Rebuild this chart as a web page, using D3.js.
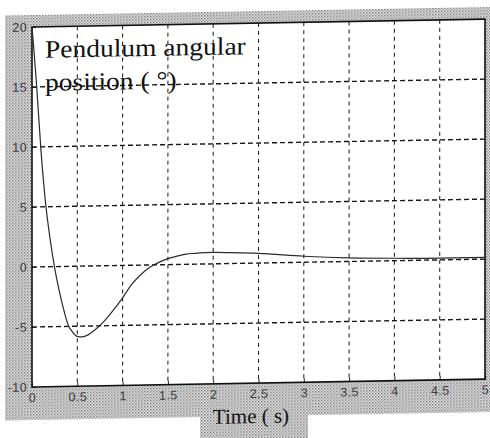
<!DOCTYPE html>
<html>
<head>
<meta charset="utf-8">
<script src="https://cdn.jsdelivr.net/npm/d3@7"></script>
<style>
body { margin: 0; background: #fff; }
</style>
</head>
<body>
<div id="pendulum_chart"></div>
<script>
//data
var timeValues = [0, 0.02, 0.05, 0.1, 0.15, 0.2, 0.25, 0.3, 0.35, 0.4, 0.45, 0.5, 0.55, 0.6, 0.7, 0.8, 0.9, 1.0, 1.1, 1.2, 1.3, 1.4, 1.5, 1.6, 1.7, 1.8, 2.0, 2.2, 2.5, 3.0, 3.5, 4.0, 4.5, 5.0];
var angleValues = [20, 18.2, 15.2, 9.6, 5.3, 2.3, -0.1, -2.0, -3.6, -4.9, -5.5, -5.85, -5.9, -5.8, -5.3, -4.6, -3.7, -2.7, -1.6, -0.8, -0.2, 0.2, 0.5, 0.7, 0.85, 0.9, 0.95, 0.9, 0.8, 0.5, 0.3, 0.2, 0.15, 0.15];
var xTicks = [0, 0.5, 1, 1.5, 2, 2.5, 3, 3.5, 4, 4.5, 5];
var xTickLabels = ["0", "0.5", "1", "1.5", "2", "2.5", "3", "3.5", "4", "4.5", "5"];
var yTicks = [-10, -5, 0, 5, 10, 15, 20];
var yTickLabels = ["-10", "-5", "0", "5", "10", "15", "20"];
var titleLines = ["Pendulum angular", "position ( \u00b0)"];
var xLabel = "Time ( s)";

//setting dimensions and margins
var margin = {top: 27, right: 5, bottom: 51, left: 32},
width = 490 - margin.left - margin.right,
height = 438 - margin.top - margin.bottom;

var svg = d3.select("#pendulum_chart")
.append("svg")
.attr("width", 490)
.attr("height", 438);

//stipple pattern like the grey figure background of the scan
var defs = svg.append("defs");
var pat = defs.append("pattern")
.attr("id", "stipple")
.attr("patternUnits", "userSpaceOnUse")
.attr("width", 3)
.attr("height", 3);
pat.append("rect").attr("width", 3).attr("height", 3).attr("fill", "#e6e6e6");
pat.append("rect").attr("x", 0).attr("y", 0).attr("width", 1.4).attr("height", 1.4).attr("fill", "#767676");
pat.append("rect").attr("x", 1.5).attr("y", 1.5).attr("width", 1.3).attr("height", 1.3).attr("fill", "#8a8a8a");

//the scan is slightly skewed, so the whole figure is skewed around the bottom-left corner
var fig = svg.append("g")
.attr("transform", "translate(" + margin.left + "," + (margin.top + height) + ") skewY(-1) translate(" + (-margin.left) + "," + (-(margin.top + height)) + ")");

//figure background
fig.append("rect")
.attr("x", 5).attr("y", 15)
.attr("width", 495).attr("height", 405)
.attr("fill", "url(#stipple)");
fig.append("rect")
.attr("x", 200).attr("y", 405)
.attr("width", 108).attr("height", 40)
.attr("fill", "url(#stipple)");

var g = fig.append("g")
.attr("transform", "translate(" + margin.left + "," + margin.top + ")");

//white axes area
g.append("rect")
.attr("width", width)
.attr("height", height)
.attr("fill", "#ffffff");

//scales
var xScale = d3.scaleLinear().domain([0, 5]).range([0, width]);
var yScale = d3.scaleLinear().domain([-10, 20]).range([height, 0]);

//grid lines (dashed, matlab style)
g.append("g")
.selectAll("line")
.data(xTicks.slice(1, -1))
.enter().append("line")
.attr("x1", function(d) { return xScale(d); })
.attr("x2", function(d) { return xScale(d); })
.attr("y1", 0)
.attr("y2", height)
.attr("stroke", "#2a2a2a")
.attr("stroke-width", 1.1)
.attr("stroke-dasharray", "4,4");

g.append("g")
.selectAll("line")
.data(yTicks.slice(1, -1))
.enter().append("line")
.attr("x1", 0)
.attr("x2", width)
.attr("y1", function(d) { return yScale(d); })
.attr("y2", function(d) { return yScale(d); })
.attr("stroke", "#1a1a1a")
.attr("stroke-width", 1.4)
.attr("stroke-dasharray", "5,3");

//x axis
var xAxis = g.append("g")
.attr("transform", "translate(0," + height + ")")
.call(d3.axisBottom(xScale).tickValues(xTicks).tickSize(-4).tickPadding(6)
  .tickFormat(function(d, i) { return xTickLabels[i]; }));
xAxis.select(".domain").remove();

//y axis
var yAxis = g.append("g")
.call(d3.axisLeft(yScale).tickValues(yTicks).tickSize(-4).tickPadding(5)
  .tickFormat(function(d, i) { return yTickLabels[i]; }));
yAxis.select(".domain").remove();

g.selectAll(".tick line").attr("stroke", "#222").attr("stroke-width", 1);
g.selectAll(".tick text")
.style("font-family", "Liberation Sans, Arial, sans-serif")
.style("font-size", "12.5px")
.style("letter-spacing", "0.4px")
.attr("fill", "#3a3a3a");

//axes box
g.append("rect")
.attr("width", width)
.attr("height", height)
.attr("fill", "none")
.attr("stroke", "#111")
.attr("stroke-width", 1.6);

//response curve
var line = d3.line()
.x(function(d, i) { return xScale(timeValues[i]); })
.y(function(d) { return yScale(d); })
.curve(d3.curveMonotoneX);

g.append("path")
.datum(angleValues)
.attr("d", line)
.attr("fill", "none")
.attr("stroke", "#2b2b2b")
.attr("stroke-width", 1.2);

//title text inside the axes (scan is a little stretched horizontally)
var title = g.append("g")
.attr("transform", "translate(13,0) scale(1.1,1)");
title.selectAll(".title-line")
.data(titleLines)
.enter().append("text")
.attr("class", "title-line")
.attr("x", 0)
.attr("y", function(d, i) { return 31 + i * 33; })
.style("font-family", "Liberation Serif, Times New Roman, serif")
.style("font-size", "25px")
.attr("fill", "#111")
.text(function(d) { return d; });

//x label
fig.append("text")
.attr("x", 251)
.attr("y", 427)
.attr("text-anchor", "middle")
.style("font-family", "Liberation Serif, Times New Roman, serif")
.style("font-size", "21px")
.attr("fill", "#111")
.text(xLabel);
</script>
</body>
</html>
